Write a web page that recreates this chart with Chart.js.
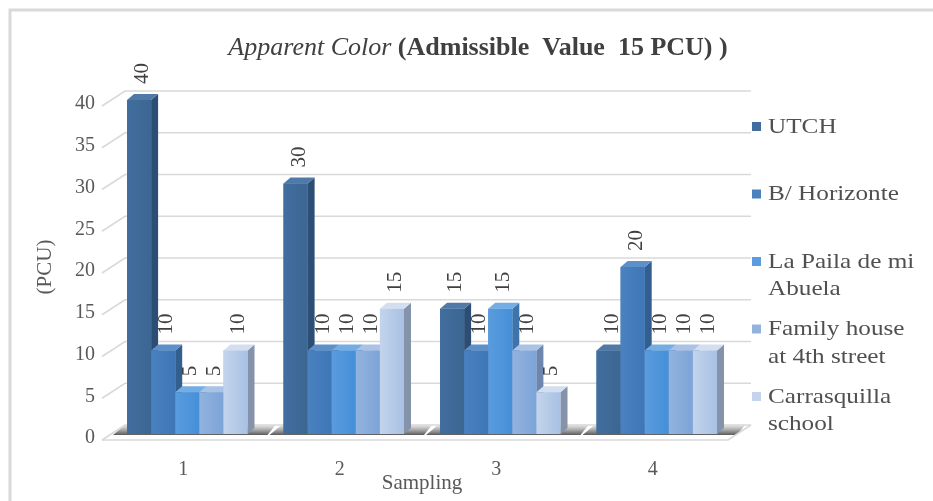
<!DOCTYPE html>
<html>
<head>
<meta charset="utf-8">
<script src="https://cdn.jsdelivr.net/npm/chart.js@4"></script>
<style>
html, body { margin: 0; padding: 0; background: #fff; }
canvas { display: block; }
</style>
</head>
<body>
<canvas id="chart" width="933" height="501"></canvas>
<script>
"use strict";

// values
const samplings = ["1", "2", "3", "4"]
const utch = [40, 30, 15, 10]
const horizonte = [10, 10, 10, 20]
const paila = [5, 10, 15, 10]
const family = [5, 10, 10, 10]
const carrasquilla = [10, 15, 5, 10]
const series_names = [["UTCH"], ["B/ Horizonte"], ["La Paila de mi", "Abuela"], ["Family house", "at 4th street"], ["Carrasquilla", "school"]]

const front_colours = ["#416e9f", "#4a82c0", "#5a9cdd", "#93b3de", "#c3d4ec"]
const side_colours = ["#2c4e74", "#335f8f", "#3f74aa", "#6c86ad", "#8593aa"]
const top_colours = ["#4f7aa8", "#5d90c9", "#74ade3", "#a9c2e6", "#d3dff1"]

const DX = 7, DY = 6          // bar depth
const WALL_DX = 23, WALL_DY = 15
const SERIF = "'Liberation Serif', 'Times New Roman', serif"

const frame = {
    id: "frame",
    beforeDraw(chart) {
        const ctx = chart.ctx
        ctx.save()
        ctx.strokeStyle = "#d9d9d9"
        ctx.lineWidth = 3
        ctx.strokeRect(10, 10, 940, 520)
        ctx.restore()
    }
}

const walls = {
    id: "walls",
    beforeDatasetsDraw(chart) {
        const ctx = chart.ctx
        const y = chart.scales.y
        const area = chart.chartArea
        const fl = area.left - 7, fr = area.right - 7
        const base = y.getPixelForValue(0)
        ctx.save()

        // floor
        ctx.beginPath()
        ctx.moveTo(fl, base + 6)
        ctx.lineTo(fr, base + 6)
        ctx.lineTo(fr + WALL_DX, base + 6 - WALL_DY)
        ctx.lineTo(fl + WALL_DX, base + 6 - WALL_DY)
        ctx.closePath()
        ctx.fillStyle = "#ffffff"
        ctx.fill()

        // shadows under each group
        const metas = chart.data.datasets.map((d, i) => chart.getDatasetMeta(i))
        samplings.forEach((s, j) => {
            const first = metas[0].data[j], last = metas[metas.length - 1].data[j]
            const gl = first.x - first.width / 2, gr = last.x + last.width / 2
            const g = ctx.createLinearGradient(0, base - 9, 0, base + 2)
            g.addColorStop(0, "rgba(90,90,90,0.15)")
            g.addColorStop(1, "rgba(40,40,40,0.85)")
            ctx.beginPath()
            ctx.moveTo(gl - 14, base + 1)
            ctx.lineTo(gr + 20, base + 1)
            ctx.lineTo(gr + 28, base - 9)
            ctx.lineTo(gl - 2, base - 9)
            ctx.closePath()
            ctx.fillStyle = g
            ctx.fill()
        })

        // gridlines on the walls
        ctx.strokeStyle = "#d9d9d9"
        ctx.lineWidth = 1.6
        y.ticks.forEach(t => {
            const py = y.getPixelForValue(t.value)
            ctx.beginPath()
            ctx.moveTo(fl, py + 6)
            ctx.lineTo(fl + WALL_DX, py + 6 - WALL_DY)
            ctx.lineTo(fr + WALL_DX, py + 6 - WALL_DY)
            ctx.stroke()
        })
        ctx.beginPath()
        ctx.moveTo(fl, base + 6)
        ctx.lineTo(fr, base + 6)
        ctx.lineTo(fr + WALL_DX, base + 6 - WALL_DY)
        ctx.stroke()
        ctx.restore()
    }
}

function poly(ctx, pts, fill) {
    ctx.beginPath()
    ctx.moveTo(pts[0][0], pts[0][1])
    pts.slice(1).forEach(p => ctx.lineTo(p[0], p[1]))
    ctx.closePath()
    ctx.fillStyle = fill
    ctx.fill()
}

const bars3d = {
    id: "bars3d",
    afterDatasetsDraw(chart) {
        const ctx = chart.ctx
        ctx.save()
        samplings.forEach((s, j) => {
            chart.data.datasets.forEach((ds, i) => {
                const el = chart.getDatasetMeta(i).data[j]
                const p = el.getProps(["x", "y", "base", "width"], true)
                const l = p.x - p.width / 2, r = p.x + p.width / 2
                poly(ctx, [[r, p.y], [r + DX, p.y - DY], [r + DX, p.base - DY], [r, p.base]], side_colours[i])
                poly(ctx, [[l, p.y], [r, p.y], [r + DX, p.y - DY], [l + DX, p.y - DY]], top_colours[i])
                const g = ctx.createLinearGradient(l, 0, r, 0)
                g.addColorStop(0, front_colours[i])
                g.addColorStop(1, Chart.helpers.color(front_colours[i]).darken(0.08).hexString())
                ctx.fillStyle = g
                ctx.fillRect(l, p.y, p.width, p.base - p.y)
            })
        })

        // value labels, rotated
        ctx.fillStyle = "#404040"
        ctx.font = "21px " + SERIF
        ctx.textAlign = "left"
        ctx.textBaseline = "middle"
        chart.data.datasets.forEach((ds, i) => {
            chart.getDatasetMeta(i).data.forEach((el, j) => {
                const p = el.getProps(["x", "y"], true)
                ctx.save()
                ctx.translate(p.x + DX / 2, p.y - 16)
                ctx.rotate(-Math.PI / 2)
                ctx.fillText(String(ds.data[j]), 0, 0)
                ctx.restore()
            })
        })
        ctx.restore()
    }
}

const titleAndLegend = {
    id: "titleAndLegend",
    afterDraw(chart) {
        const ctx = chart.ctx
        ctx.save()
        // title, mixed italic / bold
        const part1 = "Apparent Color "
        const part2 = "(Admissible  Value  15 PCU) )"
        const f1 = "italic 26px " + SERIF, f2 = "bold 26px " + SERIF
        ctx.font = f1
        const w1 = ctx.measureText(part1).width
        ctx.font = f2
        const w2 = ctx.measureText(part2).width
        let x = 478 - (w1 + w2) / 2
        ctx.fillStyle = "#404040"
        ctx.textBaseline = "middle"
        ctx.textAlign = "left"
        ctx.font = f1
        ctx.fillText(part1, x, 48)
        ctx.font = f2
        ctx.fillText(part2, x + w1, 48)

        // legend (text a little wider than the font, as in the picture)
        ctx.font = "21px " + SERIF
        series_names.forEach((lines, i) => {
            const ly = 127 + 67.5 * i
            ctx.fillStyle = front_colours[i]
            ctx.fillRect(752, ly - 5, 9, 9)
            ctx.fillStyle = "#505050"
            lines.forEach((t, k) => {
                ctx.save()
                ctx.translate(768, ly + 27.5 * k)
                ctx.scale(1.2, 1)
                ctx.fillText(t, 0, 0)
                ctx.restore()
            })
        })
        ctx.restore()
    }
}

const datasets = [utch, horizonte, paila, family, carrasquilla].map((d, i) => ({
    label: series_names[i].join(" "),
    data: d,
    backgroundColor: front_colours[i],
    categoryPercentage: 0.77,
    barPercentage: 1.0
}))

const config = {
    type: "bar",
    data: { labels: samplings, datasets: datasets },
    options: {
        responsive: false,
        animation: false,
        devicePixelRatio: 1,
        layout: { padding: { top: 100, right: 198, left: 0, bottom: 0 } },
        plugins: {
            legend: { display: false },
            tooltip: { enabled: false },
            title: { display: false }
        },
        scales: {
            x: {
                grid: { display: false },
                border: { display: false },
                ticks: {
                    font: { family: SERIF, size: 20 },
                    color: "#595959",
                    padding: 16,
                    labelOffset: -4
                },
                title: {
                    display: true,
                    text: "Sampling",
                    font: { family: SERIF, size: 21 },
                    color: "#595959",
                    padding: { top: 0, bottom: 5 }
                },
                afterFit: scale => { scale.height = 67 }
            },
            y: {
                min: 0,
                max: 40,
                grid: { display: false },
                border: { display: false },
                ticks: {
                    stepSize: 5,
                    font: { family: SERIF, size: 20 },
                    color: "#595959",
                    padding: 6,
                    labelOffset: 4
                },
                title: {
                    display: true,
                    text: "(PCU)",
                    font: { family: SERIF, size: 21 },
                    color: "#595959",
                    padding: { top: 33, bottom: 0 }
                },
                afterFit: scale => { scale.width = 109 }
            }
        }
    },
    plugins: [frame, walls, bars3d, titleAndLegend]
}

new Chart(document.getElementById("chart"), config)
</script>
</body>
</html>
